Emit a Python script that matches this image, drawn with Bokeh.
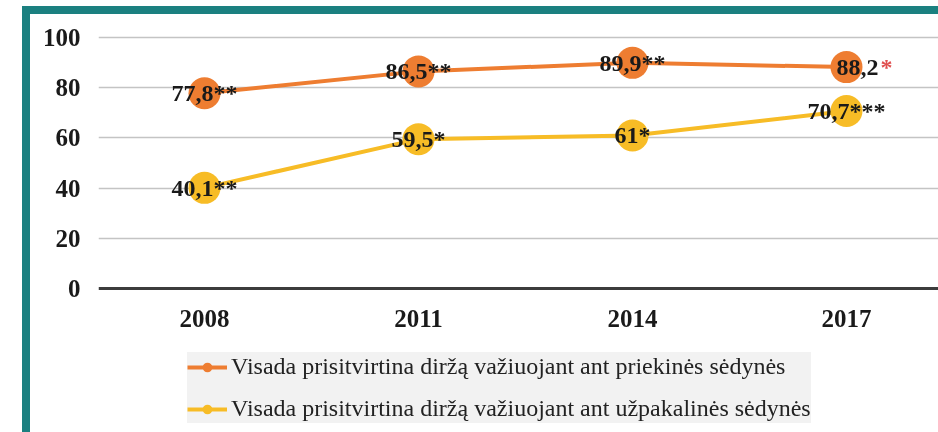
from bokeh.plotting import figure
from bokeh.models import ColumnDataSource, Range1d, FixedTicker, Legend, LegendItem
from bokeh.core.properties import value
from bokeh.embed import file_html
from bokeh.resources import INLINE

years = [2008, 2011, 2014, 2017]
front = [77.8, 86.5, 89.9, 88.2]
rear = [40.1, 59.5, 61.0, 70.7]
front_labels = ["77,8**", "86,5**", "89,9**", "88,2"]
rear_labels = ["40,1**", "59,5*", "61*", "70,7***"]
front_name = "Visada prisitvirtina diržą važiuojant ant priekinės sėdynės"
rear_name = "Visada prisitvirtina diržą važiuojant ant užpakalinės sėdynės"
y_ticks = [0, 20, 40, 60, 80, 100]

ORANGE = "#EE7D31"
YELLOW = "#F7BC26"
TEAL = "#1B8080"
SERIF = "Liberation Serif"

p = figure(width=908, height=418, output_backend="svg", toolbar_location=None,
           x_range=Range1d(2006.514, 2018.29), y_range=Range1d(-57.37, 104.78),
           min_border_left=68, min_border_right=0, min_border_top=11,
           min_border_bottom=0)
p.styles = {"position": "fixed", "left": "30px", "top": "14px",
            "box-shadow": f"-8px 0 0 0 {TEAL}, 0 -8px 0 0 {TEAL}, -8px -8px 0 0 {TEAL}"}
p.outline_line_color = None
p.background_fill_color = "white"
p.border_fill_color = "white"

# axes
p.xaxis.ticker = FixedTicker(ticks=years)
p.xaxis.major_label_overrides = {y: str(y) for y in years}
p.xaxis.fixed_location = 0
p.yaxis.ticker = FixedTicker(ticks=y_ticks)
for ax in (p.xaxis, p.yaxis):
    ax.major_tick_line_color = None
    ax.minor_tick_line_color = None
    ax.major_label_text_font = SERIF
    ax.major_label_text_font_style = "bold"
    ax.major_label_text_font_size = "25px"
    ax.major_label_text_color = "#1a1a1a"
p.yaxis.axis_line_color = None
p.yaxis.major_label_standoff = 12
p.xaxis.axis_line_color = "#3c3c3c"
p.xaxis.axis_line_width = 3
p.xaxis.major_label_standoff = 15

p.xgrid.grid_line_color = None
p.ygrid.ticker = FixedTicker(ticks=y_ticks[1:])
p.ygrid.grid_line_color = "#C4C4C4"
p.ygrid.grid_line_width = 1.5

src_f = ColumnDataSource(dict(x=years, y=front, lab=front_labels))
src_r = ColumnDataSource(dict(x=years, y=rear, lab=rear_labels))

lf = p.line("x", "y", source=src_f, line_color=ORANGE, line_width=4)
lr = p.line("x", "y", source=src_r, line_color=YELLOW, line_width=4)
sf = p.scatter("x", "y", source=src_f, size=32, fill_color=ORANGE, line_color=None)
sr = p.scatter("x", "y", source=src_r, size=32, fill_color=YELLOW, line_color=None)

txt = dict(text_font=value(SERIF), text_font_style="bold", text_font_size="24px",
           text_color="#1a1a1a", text_align="center", text_baseline="middle")
p.text(x=years[:3], y=front[:3], text=front_labels[:3], **txt)
p.text(x=years[3:], y=front[3:], text=front_labels[3:], x_offset=11, **txt)
p.text(x=years[3:], y=front[3:], text=["*"], x_offset=34,
       text_font=value(SERIF), text_font_style="bold", text_font_size="24px",
       text_color="#E05050", text_align="left", text_baseline="middle")
p.text(x="x", y="y", text="lab", source=src_r, **txt)

legend = Legend(items=[LegendItem(label=front_name, renderers=[lf, sf]),
                       LegendItem(label=rear_name, renderers=[lr, sr])],
                location=(89, 9), orientation="vertical")
legend.background_fill_color = "#F2F2F2"
legend.background_fill_alpha = 1
legend.border_line_color = None
legend.label_text_font = SERIF
legend.label_text_font_size = "24px"
legend.label_text_color = "#222222"
legend.glyph_width = 40
legend.glyph_height = 24
legend.label_height = 29
legend.spacing = 13
legend.padding = 4
legend.margin = 0
legend.label_standoff = 4
p.add_layout(legend, "center")

open("out.html", "w").write(file_html(p, INLINE))
